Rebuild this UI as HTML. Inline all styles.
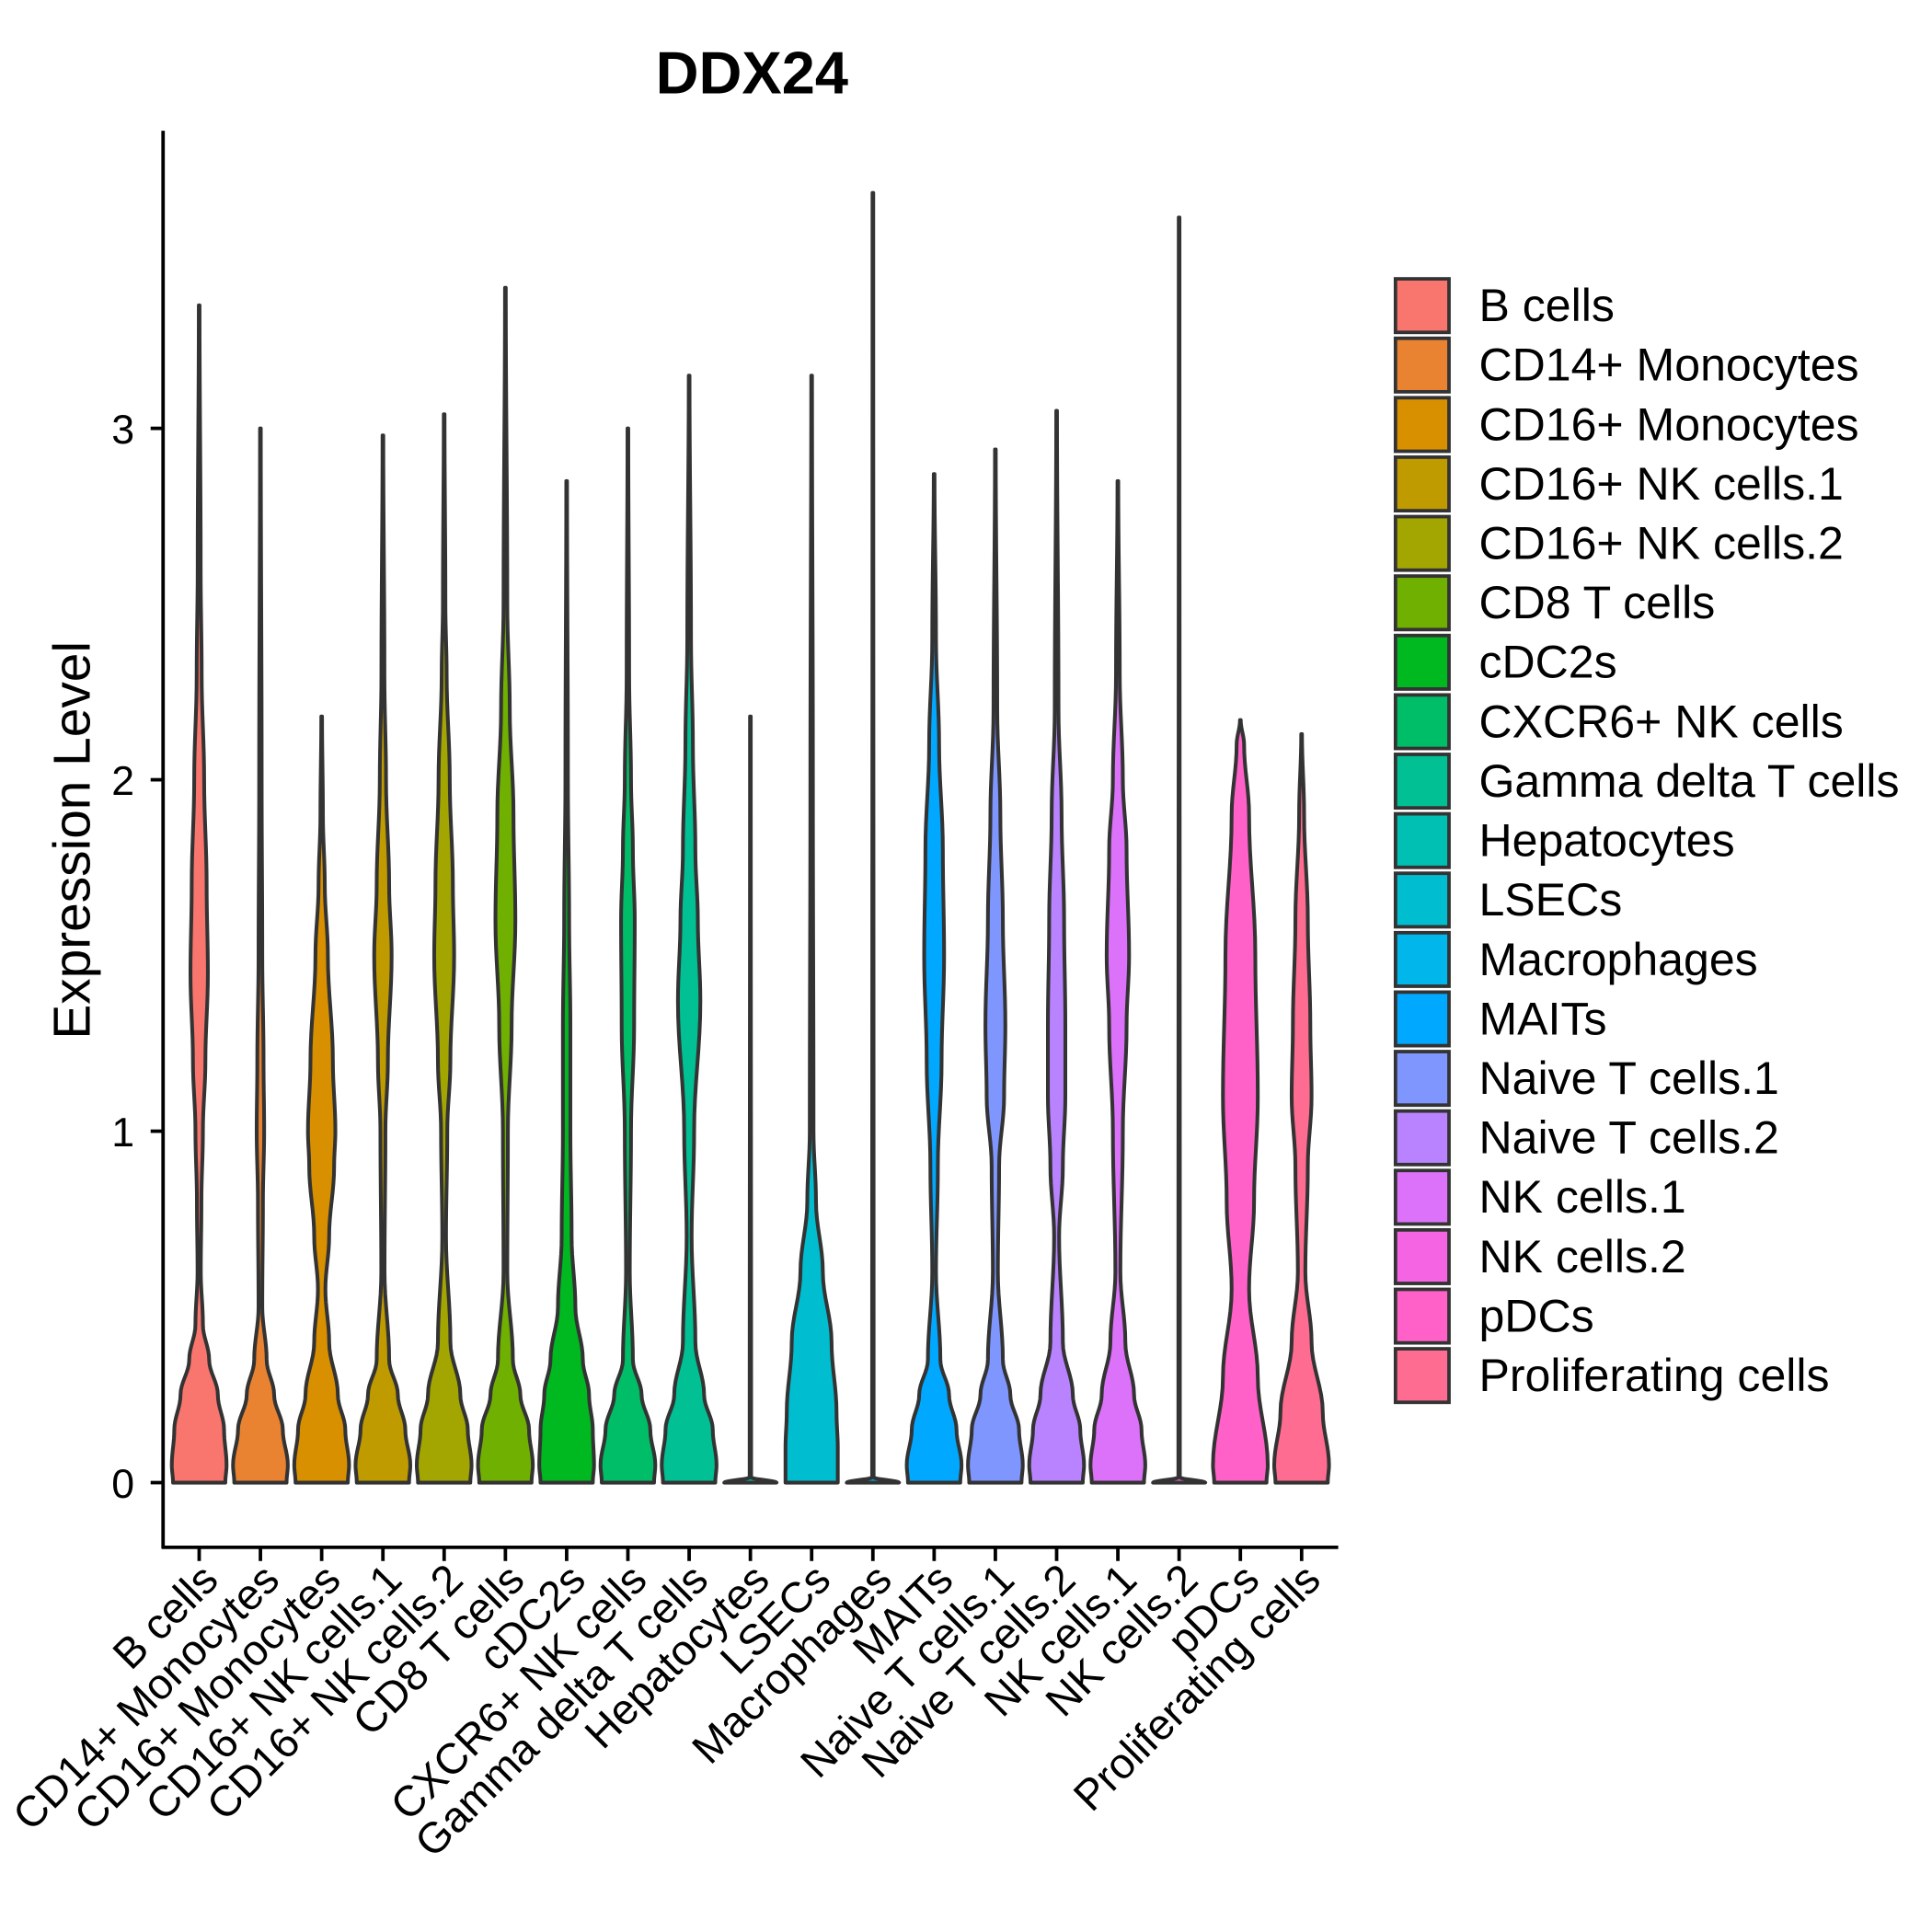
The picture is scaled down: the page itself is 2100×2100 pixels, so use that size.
<!DOCTYPE html>
<html><head><meta charset="utf-8"><style>html,body{margin:0;padding:0;background:#fff}svg{display:block}</style></head>
<body>
<svg id="chart" width="2100" height="2100" viewBox="0 0 1552 1552" xmlns="http://www.w3.org/2000/svg" font-family="'Liberation Sans', Arial, sans-serif">
<rect width="1552" height="1552" fill="#fff"/>
<text x="604" y="75" font-size="48" font-weight="bold" text-anchor="middle">DDX24</text>
<text transform="translate(72,675) rotate(-90)" font-size="42" text-anchor="middle">Expression Level</text>
<g id="violins"></g>
<g id="axes"></g>
<g id="legend"></g>
</svg>
<script>
const categories = ["B cells","CD14+ Monocytes","CD16+ Monocytes","CD16+ NK cells.1","CD16+ NK cells.2","CD8 T cells","cDC2s","CXCR6+ NK cells","Gamma delta T cells","Hepatocytes","LSECs","Macrophages","MAITs","Naive T cells.1","Naive T cells.2","NK cells.1","NK cells.2","pDCs","Proliferating cells"];
const colors = ["#F8766D","#EA8331","#D89000","#BF9B00","#A3A500","#70B000","#00B81F","#00BE67","#00C094","#00C0B3","#00BDD0","#00B6EB","#00A9FF","#7F96FF","#B983FF","#DC71FA","#F564E3","#FF61C9","#FF6C91"];
const maxValues = [3.35,3.0,2.18,2.98,3.04,3.4,2.85,3.0,3.15,2.18,3.15,3.67,2.87,2.94,3.05,2.85,3.6,2.17,2.13];
const densityLevels = [
 [0,0.05,0.15,0.25,0.35,0.45,0.6,0.8,1.0,1.2,1.45,1.7,2.0,2.3,2.6],
 [0,0.05,0.15,0.25,0.35,0.5,0.8,1.0,1.2,1.5,2.0],
 [0,0.05,0.15,0.25,0.4,0.55,0.7,0.9,1.0,1.2,1.5,1.7,1.9],
 [0,0.05,0.15,0.25,0.35,0.6,1.0,1.2,1.5,1.7,2.0,2.3],
 [0,0.05,0.15,0.25,0.4,0.7,1.0,1.2,1.5,1.7,2.0,2.3,2.5],
 [0,0.05,0.15,0.25,0.35,0.6,1.0,1.3,1.6,1.9,2.2,2.5],
 [0,0.05,0.15,0.25,0.35,0.5,0.7,1.0,1.3,1.6,2.0],
 [0,0.05,0.15,0.25,0.35,0.6,1.0,1.3,1.6,1.8,2.0,2.3],
 [0,0.05,0.15,0.25,0.4,0.7,1.0,1.37,1.6,1.8,2.1,2.4],
 [0,0.015],
 [0,0.1,0.2,0.4,0.6,0.8,1.0,2.0],
 [0,0.015],
 [0,0.05,0.15,0.25,0.35,0.6,0.9,1.2,1.5,1.8,2.1,2.4],
 [0,0.05,0.15,0.25,0.35,0.6,0.9,1.1,1.3,1.6,1.9,2.2],
 [0,0.05,0.15,0.25,0.4,0.7,0.9,1.1,1.3,1.6,1.9,2.2],
 [0,0.05,0.15,0.25,0.4,0.6,1.0,1.3,1.5,1.8,2.0,2.3],
 [0,0.015],
 [0,0.05,0.3,0.55,0.8,1.1,1.5,1.9,2.1],
 [0,0.05,0.2,0.4,0.6,0.9,1.1,1.3,1.6,1.9]
];
const densityWidths = [
 [21,22,20,15,8,3,1.3,1.8,3,5,7,6,4,2,1.2],
 [21,22,18,11,5,1.5,2,3,2.5,1.5,1],
 [21,22,19,13,6,3,6,10,11,9,5,2.5,1],
 [21,22,18,12,5,1.3,2,4,7,5,2.5,1.2],
 [21,22,19,13,5,1.5,2.5,5,8,7,4.5,2,1],
 [21,22,19,12,6,1.5,2,5,8,6.5,3.5,1.5],
 [21,22,21,18,13,7,4,3,3,2,1],
 [21,22,18,11,4,1.5,2.5,5,5.5,4,2.5,1],
 [21,22,19,12,5,2,4,9,7,5,3,1.5],
 [21,0.6],
 [21,21,20,16,9,3.5,1.5,1],
 [21,0.6],
 [21,22,18,12,5,1.5,3,6,8,7,4,1.5],
 [21,22,19,12,6,2,3,7,8,6,4,1.5],
 [21,22,19,13,5,2,5,7,7,6,4,1.5],
 [21,22,19,13,6,2,4,7,9,7,4,1.5],
 [21,0.6],
 [21,22,14,7,11,14,12,7,3],
 [21,22,17,8,3,5,8,7,5,2]
];
const yTicks = [0,1,2,3];

const NS="http://www.w3.org/2000/svg";
const y0=1191, unit=282.3;
const yScale = v => y0 - v*unit;
const xScale = i => 160 + i*49.2;
const vg=document.getElementById('violins');
categories.forEach((c,i)=>{
  const cx=xScale(i);
  const lv=densityLevels[i].concat([maxValues[i]]);
  const wd=densityWidths[i].concat([0.3]);
  const pts=[];
  for(let k=0;k<lv.length-1;k++){
    const n=8;
    for(let s=0;s<n;s++){
      const t=s/n, e=(1-Math.cos(Math.PI*t))/2;
      pts.push([lv[k]+(lv[k+1]-lv[k])*t, wd[k]+(wd[k+1]-wd[k])*e]);
    }
  }
  pts.push([lv[lv.length-1],wd[wd.length-1]]);
  let d='M'+(cx-pts[0][1]).toFixed(2)+','+yScale(0).toFixed(2);
  pts.forEach(p=>{d+=' L'+(cx-p[1]).toFixed(2)+','+yScale(p[0]).toFixed(2);});
  for(let k=pts.length-1;k>=0;k--){const p=pts[k];d+=' L'+(cx+p[1]).toFixed(2)+','+yScale(p[0]).toFixed(2);}
  d+=' Z';
  const path=document.createElementNS(NS,'path');
  path.setAttribute('d',d);
  path.setAttribute('fill',colors[i]);
  path.setAttribute('stroke','#333');
  path.setAttribute('stroke-width','3');
  path.setAttribute('stroke-linejoin','round');
  
  
  vg.appendChild(path);
});
const ag=document.getElementById('axes');
function line(x1,y1,x2,y2,name){const l=document.createElementNS(NS,'line');l.setAttribute('x1',x1);l.setAttribute('y1',y1);l.setAttribute('x2',x2);l.setAttribute('y2',y2);l.setAttribute('stroke','#000');l.setAttribute('stroke-width','2.8');


ag.appendChild(l);}
line(131,105,131,1244,'y-axis-line');
line(130,1243,1075,1243,'x-axis-line');
yTicks.forEach(v=>{
  line(121,yScale(v),131,yScale(v),'y-tick');
  const t=document.createElementNS(NS,'text');
  t.setAttribute('x',108);t.setAttribute('y',yScale(v)+12);t.setAttribute('font-size','33');t.setAttribute('text-anchor','end');
  t.textContent=v;
  
  
  ag.appendChild(t);
});
categories.forEach((c,i)=>{
  const x=xScale(i);
  line(x,1243,x,1254,'x-tick');
  const t=document.createElementNS(NS,'text');
  t.setAttribute('transform','translate('+(x+17)+',1271) rotate(-45)');
  t.setAttribute('font-size','34.5');t.setAttribute('text-anchor','end');
  t.textContent=c;
  
  
  ag.appendChild(t);
});
const lg=document.getElementById('legend');
categories.forEach((c,i)=>{
  const top=224+i*47.75;
  const r=document.createElementNS(NS,'rect');
  r.setAttribute('x',1121);r.setAttribute('y',top);r.setAttribute('width',43);r.setAttribute('height',43);
  r.setAttribute('fill',colors[i]);r.setAttribute('stroke','#333');r.setAttribute('stroke-width','2.8');
  
  
  lg.appendChild(r);
  const t=document.createElementNS(NS,'text');
  t.setAttribute('x',1188);t.setAttribute('y',top+34);t.setAttribute('font-size','37');
  t.textContent=c;
  
  
  lg.appendChild(t);
});
</script>
</body></html>
